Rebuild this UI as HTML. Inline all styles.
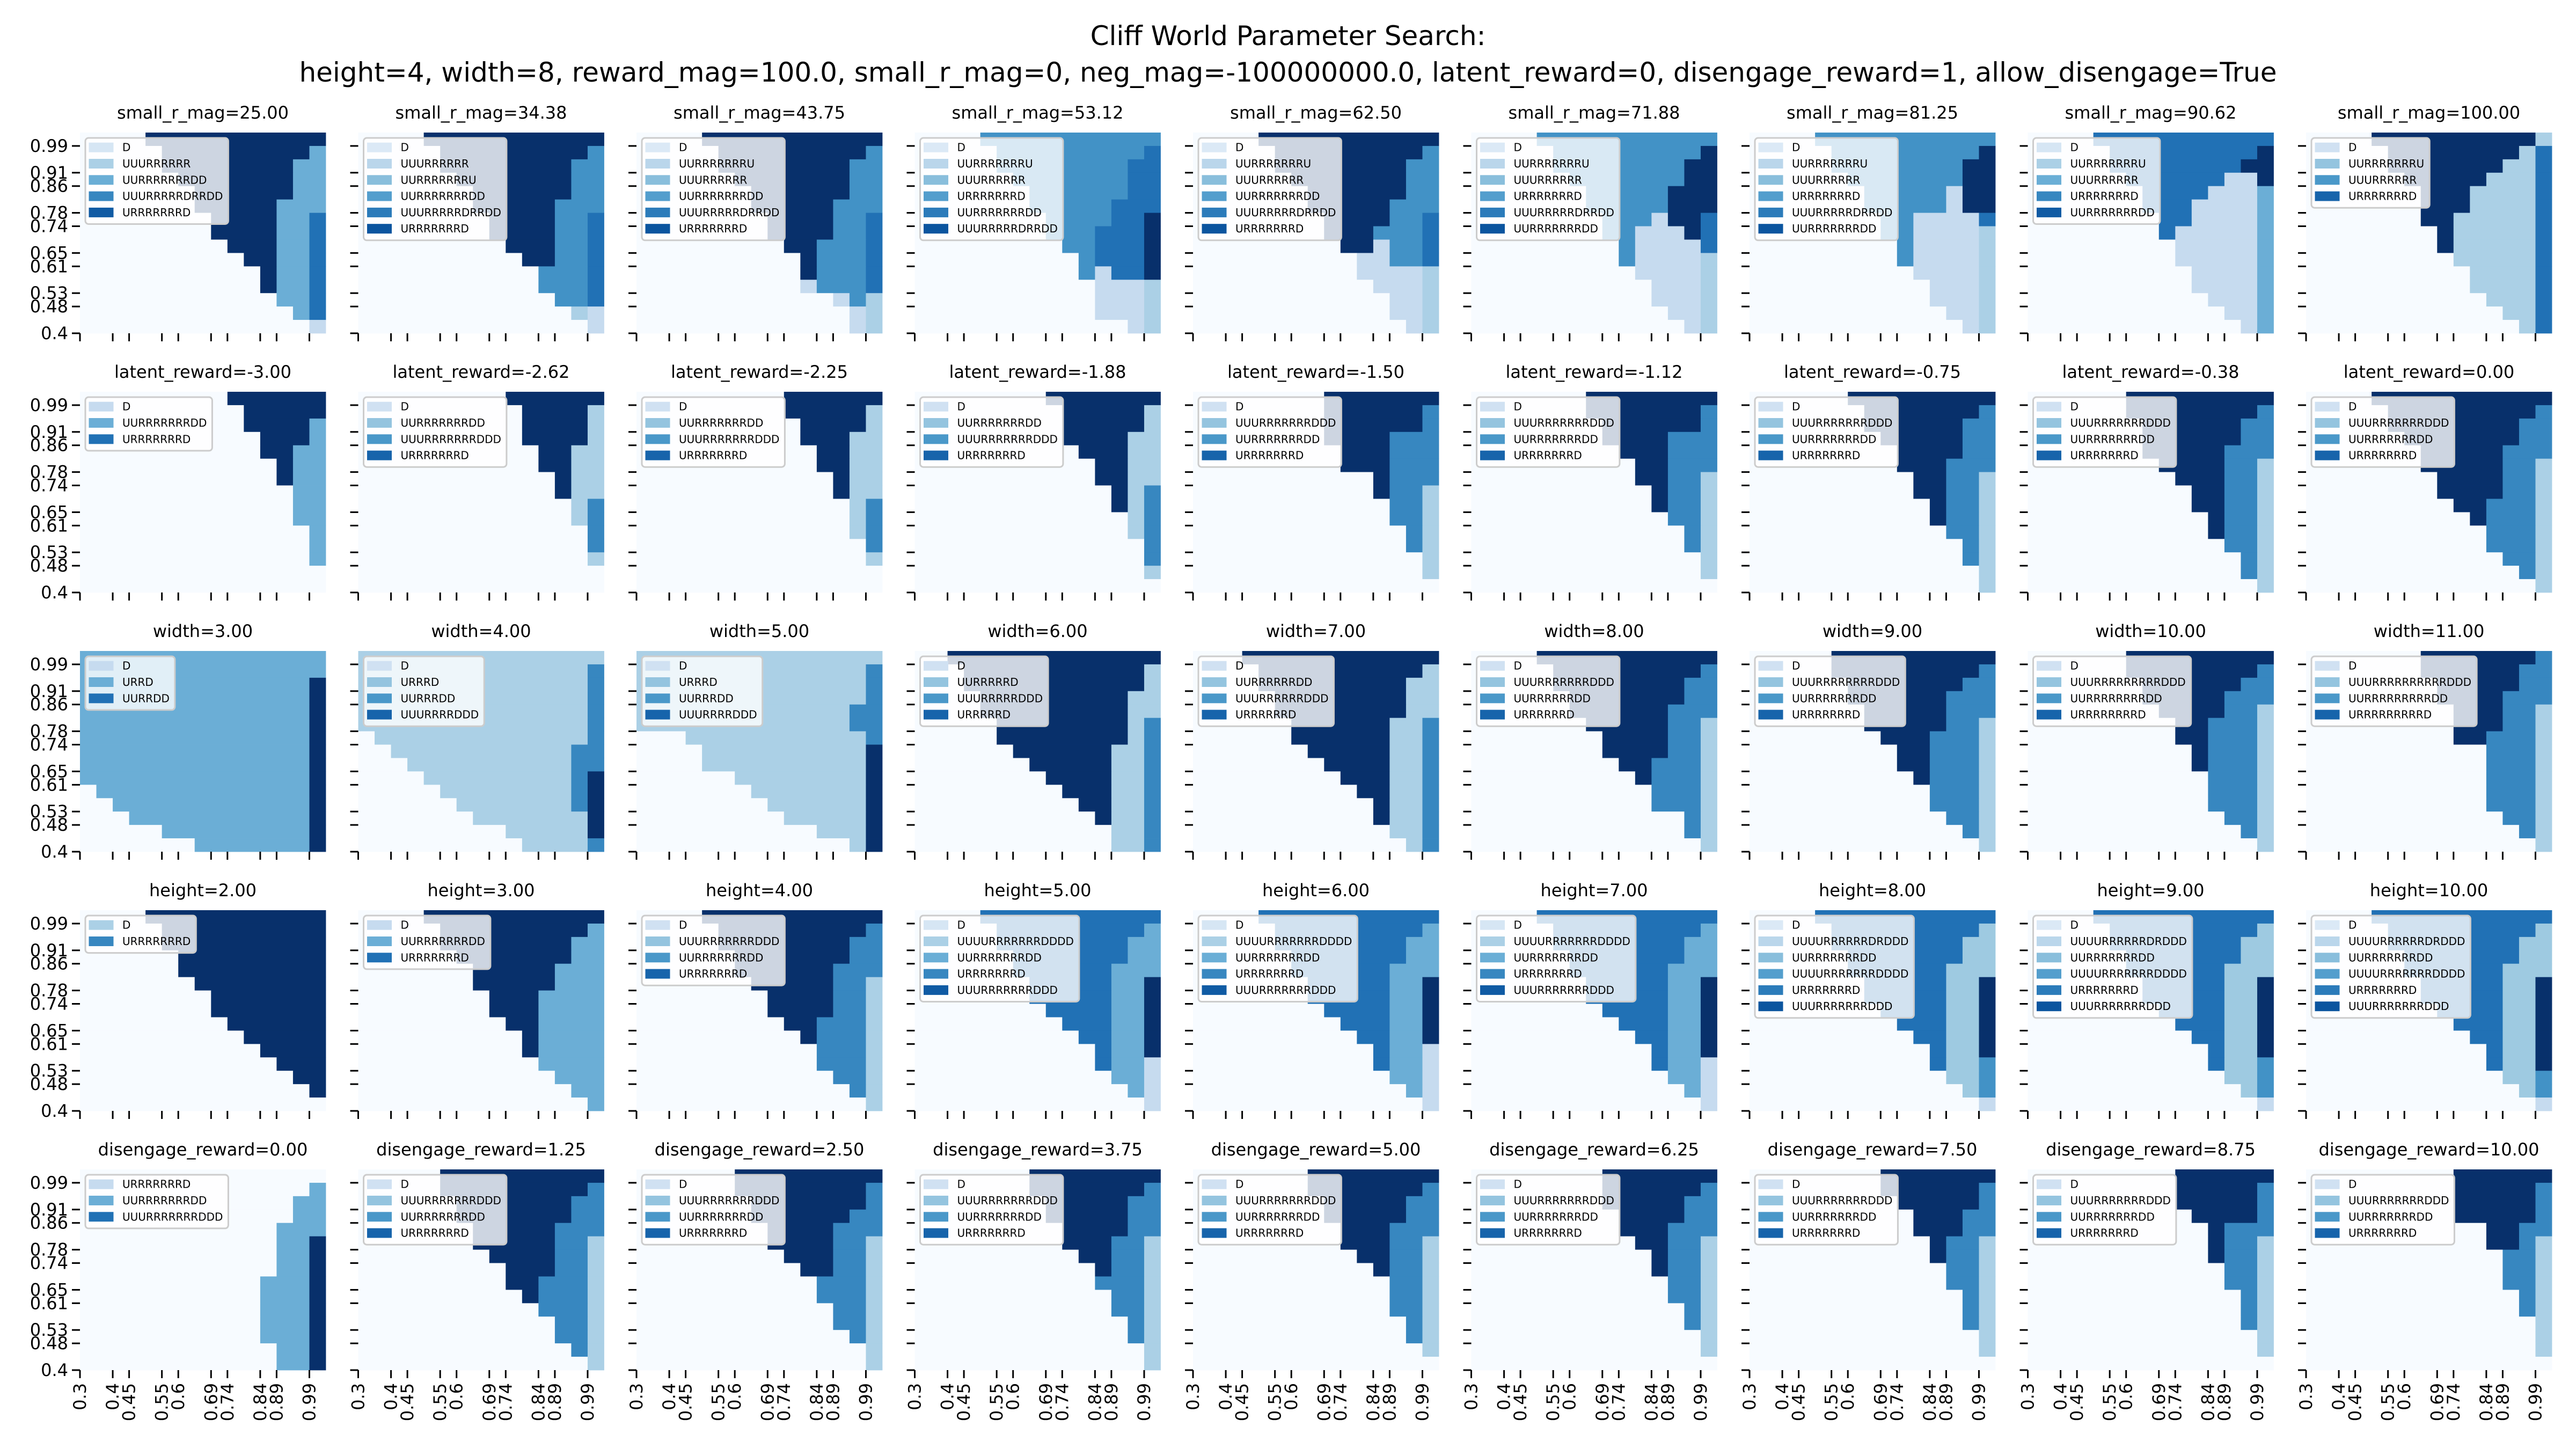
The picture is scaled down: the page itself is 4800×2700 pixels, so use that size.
<!DOCTYPE html>
<html><head><meta charset="utf-8"><title>Cliff World Parameter Search</title>
<style>
html,body{margin:0;padding:0;background:#fff;}
svg{display:block;font-family:"DejaVu Sans","Liberation Sans",sans-serif;}
</style></head>
<body>
<svg id="chart" width="4800" height="2700" xmlns="http://www.w3.org/2000/svg">
<rect x="0" y="0" width="4800" height="2700" fill="#ffffff"/>
<text x="2400" y="84" text-anchor="middle" font-size="50">Cliff World Parameter Search:</text>
<text x="2400" y="152" text-anchor="middle" font-size="50">height=4, width=8, reward_mag=100.0, small_r_mag=0, neg_mag=-100000000.0, latent_reward=0, disengage_reward=1, allow_disengage=True</text>
</svg>
<script>
// ---- data ----
const xTickLabels = ["0.3","0.4","0.45","0.55","0.6","0.69","0.74","0.84","0.89","0.99"];
const xTickCols = [0,2,3,5,6,8,9,11,12,14];
const yTickLabels = ["0.99","0.91","0.86","0.78","0.74","0.65","0.61","0.53","0.48","0.4"];
const yTickRows = [1,3,4,6,7,9,10,12,13,15];

const titlesRow1 = ["small_r_mag=25.00","small_r_mag=34.38","small_r_mag=43.75","small_r_mag=53.12","small_r_mag=62.50","small_r_mag=71.88","small_r_mag=81.25","small_r_mag=90.62","small_r_mag=100.00"];
const titlesRow2 = ["latent_reward=-3.00","latent_reward=-2.62","latent_reward=-2.25","latent_reward=-1.88","latent_reward=-1.50","latent_reward=-1.12","latent_reward=-0.75","latent_reward=-0.38","latent_reward=0.00"];
const titlesRow3 = ["width=3.00","width=4.00","width=5.00","width=6.00","width=7.00","width=8.00","width=9.00","width=10.00","width=11.00"];
const titlesRow4 = ["height=2.00","height=3.00","height=4.00","height=5.00","height=6.00","height=7.00","height=8.00","height=9.00","height=10.00"];
const titlesRow5 = ["disengage_reward=0.00","disengage_reward=1.25","disengage_reward=2.50","disengage_reward=3.75","disengage_reward=5.00","disengage_reward=6.25","disengage_reward=7.50","disengage_reward=8.75","disengage_reward=10.00"];

const legendsRow1 = [
 ["D","UUURRRRRR","UURRRRRRRDD","UUURRRRRDRRDD","URRRRRRRD"],
 ["D","UUURRRRRR","UURRRRRRRU","UURRRRRRRDD","UUURRRRRDRRDD","URRRRRRRD"],
 ["D","UURRRRRRRU","UUURRRRRR","UURRRRRRRDD","UUURRRRRDRRDD","URRRRRRRD"],
 ["D","UURRRRRRRU","UUURRRRRR","URRRRRRRD","UURRRRRRRDD","UUURRRRRDRRDD"],
 ["D","UURRRRRRRU","UUURRRRRR","UURRRRRRRDD","UUURRRRRDRRDD","URRRRRRRD"],
 ["D","UURRRRRRRU","UUURRRRRR","URRRRRRRD","UUURRRRRDRRDD","UURRRRRRRDD"],
 ["D","UURRRRRRRU","UUURRRRRR","URRRRRRRD","UUURRRRRDRRDD","UURRRRRRRDD"],
 ["D","UURRRRRRRU","UUURRRRRR","URRRRRRRD","UURRRRRRRDD"],
 ["D","UURRRRRRRU","UUURRRRRR","URRRRRRRD"]
];
const legendsRow2 = [
 ["D","UURRRRRRRDD","URRRRRRRD"],
 ["D","UURRRRRRRDD","UUURRRRRRRDDD","URRRRRRRD"],
 ["D","UURRRRRRRDD","UUURRRRRRRDDD","URRRRRRRD"],
 ["D","UURRRRRRRDD","UUURRRRRRRDDD","URRRRRRRD"],
 ["D","UUURRRRRRRDDD","UURRRRRRRDD","URRRRRRRD"],
 ["D","UUURRRRRRRDDD","UURRRRRRRDD","URRRRRRRD"],
 ["D","UUURRRRRRRDDD","UURRRRRRRDD","URRRRRRRD"],
 ["D","UUURRRRRRRDDD","UURRRRRRRDD","URRRRRRRD"],
 ["D","UUURRRRRRRDDD","UURRRRRRRDD","URRRRRRRD"]
];
const legendsRow3 = [
 ["D","URRD","UURRDD"],
 ["D","URRRD","UURRRDD","UUURRRRDDD"],
 ["D","URRRD","UURRRDD","UUURRRRDDD"],
 ["D","UURRRRRD","UUURRRRRDDD","URRRRRD"],
 ["D","UURRRRRRDD","UUURRRRRRDDD","URRRRRRD"],
 ["D","UUURRRRRRRDDD","UURRRRRRDD","URRRRRRD"],
 ["D","UUURRRRRRRRDDD","UURRRRRRRDD","URRRRRRRD"],
 ["D","UUURRRRRRRRRDDD","UURRRRRRRRDD","URRRRRRRRD"],
 ["D","UUURRRRRRRRRRDDD","UURRRRRRRRRDD","URRRRRRRRRD"]
];
const legendsRow4 = [
 ["D","URRRRRRRD"],
 ["D","UURRRRRRRDD","URRRRRRRD"],
 ["D","UUURRRRRRRDDD","UURRRRRRRDD","URRRRRRRD"],
 ["D","UUUURRRRRRRDDDD","UURRRRRRRDD","URRRRRRRD","UUURRRRRRRDDD"],
 ["D","UUUURRRRRRRDDDD","UURRRRRRRDD","URRRRRRRD","UUURRRRRRRDDD"],
 ["D","UUUURRRRRRRDDDD","UURRRRRRRDD","URRRRRRRD","UUURRRRRRRDDD"],
 ["D","UUUURRRRRRDRDDD","UURRRRRRRDD","UUUURRRRRRRDDDD","URRRRRRRD","UUURRRRRRRDDD"],
 ["D","UUUURRRRRRDRDDD","UURRRRRRRDD","UUUURRRRRRRDDDD","URRRRRRRD","UUURRRRRRRDDD"],
 ["D","UUUURRRRRRDRDDD","UURRRRRRRDD","UUUURRRRRRRDDDD","URRRRRRRD","UUURRRRRRRDDD"]
];
const legendsRow5 = [
 ["URRRRRRRD","UURRRRRRRDD","UUURRRRRRRDDD"],
 ["D","UUURRRRRRRDDD","UURRRRRRRDD","URRRRRRRD"],
 ["D","UUURRRRRRRDDD","UURRRRRRRDD","URRRRRRRD"],
 ["D","UUURRRRRRRDDD","UURRRRRRRDD","URRRRRRRD"],
 ["D","UUURRRRRRRDDD","UURRRRRRRDD","URRRRRRRD"],
 ["D","UUURRRRRRRDDD","UURRRRRRRDD","URRRRRRRD"],
 ["D","UUURRRRRRRDDD","UURRRRRRRDD","URRRRRRRD"],
 ["D","UUURRRRRRRDDD","UURRRRRRRDD","URRRRRRRD"],
 ["D","UUURRRRRRRDDD","UURRRRRRRDD","URRRRRRRD"]
];

// grid rows listed top (0.99 side) to bottom; each char = colour class of a cell
const gridsRow1 = [
 ["000077777777777","000007777777773","000007777777733","000000777777733","000000077777733","000000077777333","000000007777335","000000007777335","000000000777335","000000000077335","000000000007335","000000000007335","000000000000335","000000000000035","000000000000001"],
 ["000077777777777","000007777777774","000007777777744","000000777777744","000000077777744","000000077777444","000000007777445","000000007777445","000000000777445","000000000077445","000000000004445","000000000004445","000000000000445","000000000000021","000000000000001"],
 ["000077777777777","000007777777774","000007777777744","000000777777744","000000077777744","000000077777444","000000007777445","000000007777445","000000000774445","000000000074445","000000000074445","000000000014445","000000000000142","000000000000012","000000000000012"],
 ["000044444444444","000004444444445","000004444444455","000000444444455","000000044444455","000000044444555","000000004444557","000000004445557","000000000445557","000000000045557","000000000041557","000000000001112","000000000001112","000000000001112","000000000000012"],
 ["000077777777777","000007777777774","000007777777744","000000777777744","000000077777744","000000077777444","000000007777445","000000007774445","000000000771445","000000000011445","000000000011112","000000000001112","000000000000112","000000000000112","000000000000012"],
 ["000044444444444","000004444444447","000004444444477","000000444444477","000000044444777","000000044444777","000000004441775","000000004411175","000000000411115","000000000411112","000000000011112","000000000001112","000000000001112","000000000000112","000000000000012"],
 ["000044444444444","000004444444447","000004444444477","000000444444477","000000044444177","000000044444177","000000004411115","000000004411112","000000000411112","000000000411112","000000000011112","000000000001112","000000000001112","000000000000112","000000000000012"],
 ["000055555555555","000005555555557","000005555555577","000000555555117","000000055551113","000000055511113","000000005511113","000000005111113","000000000111113","000000000111113","000000000011113","000000000011113","000000000001113","000000000000113","000000000000013"],
 ["000077777777772","000007777777725","000007777777225","000000777772225","000000077722225","000000077722225","000000077222225","000000007222225","000000007222225","000000000222225","000000000022225","000000000022225","000000000002225","000000000000225","000000000000025"]
];
const gridsRow2 = [
 ["000000000777777","000000000077777","000000000077773","000000000007773","000000000007733","000000000000733","000000000000733","000000000000033","000000000000033","000000000000033","000000000000003","000000000000003","000000000000003","000000000000000","000000000000000"],
 ["000000000777777","000000000077772","000000000077772","000000000077772","000000000007722","000000000007722","000000000000722","000000000000722","000000000000026","000000000000026","000000000000006","000000000000006","000000000000002","000000000000000","000000000000000"],
 ["000000000777777","000000000777772","000000000077772","000000000077722","000000000007722","000000000007722","000000000000722","000000000000722","000000000000026","000000000000026","000000000000026","000000000000006","000000000000002","000000000000000","000000000000000"],
 ["000000007777777","000000000777772","000000000777772","000000000777722","000000000077722","000000000007722","000000000007722","000000000000726","000000000000726","000000000000026","000000000000026","000000000000006","000000000000006","000000000000002","000000000000000"],
 ["000000007777777","000000007777776","000000007777776","000000007777666","000000000777666","000000000777666","000000000007666","000000000007662","000000000000662","000000000000662","000000000000062","000000000000062","000000000000002","000000000000002","000000000000000"],
 ["000000077777777","000000077777776","000000007777776","000000007777666","000000000777666","000000000077666","000000000077662","000000000007662","000000000007662","000000000000662","000000000000062","000000000000062","000000000000002","000000000000002","000000000000000"],
 ["000000777777777","000000077777776","000000077777766","000000007777766","000000000777766","000000000777666","000000000077662","000000000077662","000000000007662","000000000007662","000000000000662","000000000000062","000000000000062","000000000000002","000000000000002"],
 ["000000777777777","000000777777776","000000077777766","000000077777766","000000077777666","000000007777662","000000000777662","000000000077662","000000000077662","000000000007662","000000000007662","000000000000662","000000000000062","000000000000062","000000000000002"],
 ["000077777777777","000007777777776","000007777777766","000000777777766","000000077777666","000000077777662","000000007777662","000000007777662","000000000776662","000000000076662","000000000006662","000000000006662","000000000000662","000000000000062","000000000000002"]
];
const gridsRow3 = [
 ["333333333333333","333333333333333","333333333333337","333333333333337","333333333333337","333333333333337","333333333333337","333333333333337","333333333333337","333333333333337","033333333333337","003333333333337","000333333333337","000003333333337","000000033333337"],
 ["222222222222222","222222222222226","222222222222226","222222222222226","222222222222226","222222222222226","022222222222226","002222222222266","000222222222266","000022222222267","000002222222267","000000222222267","000000022222227","000000000222227","000000000022226"],
 ["222222222222222","222222222222226","222222222222226","222222222222226","222222222222266","222222222222266","000222222222226","000022222222227","000022222222227","000000222222227","000000022222227","000000002222227","000000000222227","000000000002227","000000000000027"],
 ["007777777777777","000777777777772","000777777777772","000077777777722","000077777777722","000007777777726","000007777777726","000000777777226","000000077777226","000000007777226","000000000777226","000000000077226","000000000007226","000000000000226","000000000000226"],
 ["000777777777777","000077777777772","000077777777722","000007777777722","000007777777722","000000777777226","000000777777226","000000077777226","000000007777226","000000000777226","000000000077226","000000000007226","000000000007226","000000000000226","000000000000026"],
 ["000077777777777","000007777777776","000007777777766","000000777777766","000000777777666","000000077777662","000000007777662","000000007777662","000000000776662","000000000076662","000000000006662","000000000006662","000000000000062","000000000000062","000000000000002"],
 ["000007777777777","000007777777776","000000777777766","000000777777666","000000077777666","000000077777662","000000007776662","000000000776662","000000000776662","000000000076662","000000000006662","000000000006662","000000000000662","000000000000062","000000000000002"],
 ["000000777777777","000000777777776","000000077777766","000000077777666","000000007777662","000000000776662","000000000776662","000000000076662","000000000076662","000000000006662","000000000006662","000000000006662","000000000000662","000000000000062","000000000000002"],
 ["000000077777776","000000077777766","000000007777766","000000007777666","000000000777662","000000000777662","000000000776662","000000000006662","000000000006662","000000000006662","000000000006662","000000000006662","000000000000662","000000000000062","000000000000002"]
];
const gridsRow4 = [
 ["000077777777777","000007777777777","000007777777777","000000777777777","000000777777777","000000077777777","000000007777777","000000007777777","000000000777777","000000000077777","000000000007777","000000000000777","000000000000077","000000000000007","000000000000000"],
 ["000077777777777","000007777777773","000007777777733","000000777777733","000000077777333","000000077777333","000000007773333","000000007773333","000000000773333","000000000073333","000000000073333","000000000003333","000000000000333","000000000000033","000000000000003"],
 ["000077777777777","000007777777776","000007777777766","000000777777766","000000777777666","000000077777662","000000007777662","000000007777662","000000000776662","000000000076662","000000000006662","000000000006662","000000000000662","000000000000062","000000000000002"],
 ["000055555555555","000005555555553","000005555555533","000000555555533","000000555555333","000000055555337","000000055555337","000000005555337","000000000555337","000000000055337","000000000005337","000000000005331","000000000000331","000000000000031","000000000000001"],
 ["000055555555555","000005555555553","000005555555533","000000555555533","000000555555333","000000055555337","000000055555337","000000005555337","000000000555337","000000000055337","000000000005331","000000000005331","000000000000331","000000000000031","000000000000001"],
 ["000055555555555","000005555555553","000005555555533","000000555555533","000000555555333","000000055555337","000000055555337","000000005555337","000000000555337","000000000055337","000000000005337","000000000005331","000000000000331","000000000000031","000000000000001"],
 ["000055555555555","000005555555558","000005555555588","000000555555588","000000555555888","000000055555887","000000055555887","000000005555887","000000000555887","000000000055887","000000000005887","000000000005884","000000000000884","000000000000084","000000000000001"],
 ["000055555555555","000005555555558","000005555555588","000000555555588","000000555555888","000000055555887","000000055555887","000000005555887","000000000555887","000000000055887","000000000005887","000000000005884","000000000000884","000000000000084","000000000000001"],
 ["000055555555555","000005555555558","000005555555588","000000555555588","000000555555888","000000055555887","000000055555887","000000005555887","000000000555887","000000000055887","000000000005887","000000000005887","000000000000884","000000000000084","000000000000001"]
];
const gridsRow5 = [
 ["000000000000000","000000000000003","000000000000033","000000000000033","000000000000333","000000000000337","000000000000337","000000000000337","000000000003337","000000000003337","000000000003337","000000000003337","000000000003337","000000000000337","000000000000337"],
 ["000007777777777","000007777777776","000000777777766","000000777777766","000000077777666","000000077777662","000000007777662","000000000777662","000000000776662","000000000076662","000000000006662","000000000000662","000000000000662","000000000000062","000000000000002"],
 ["000000777777777","000000777777776","000000077777776","000000077777766","000000007777666","000000007777662","000000000777662","000000000077662","000000000006662","000000000006662","000000000000662","000000000000662","000000000000062","000000000000002","000000000000002"],
 ["000000077777777","000000077777776","000000007777766","000000007777766","000000000777766","000000000777662","000000000077662","000000000007662","000000000006662","000000000000662","000000000000662","000000000000062","000000000000062","000000000000002","000000000000002"],
 ["000000077777777","000000077777776","000000007777766","000000007777766","000000000777666","000000000777662","000000000077662","000000000007662","000000000000662","000000000000662","000000000000662","000000000000062","000000000000062","000000000000002","000000000000000"],
 ["000000007777777","000000007777776","000000007777766","000000000777766","000000000777666","000000000077662","000000000007662","000000000007662","000000000000662","000000000000662","000000000000062","000000000000062","000000000000002","000000000000002","000000000000000"],
 ["000000007777777","000000007777776","000000000777776","000000000077766","000000000077766","000000000007662","000000000007662","000000000000662","000000000000662","000000000000062","000000000000062","000000000000062","000000000000002","000000000000002","000000000000000"],
 ["000000000777777","000000000777776","000000000777776","000000000077776","000000000007666","000000000007662","000000000007662","000000000000662","000000000000662","000000000000062","000000000000062","000000000000062","000000000000002","000000000000002","000000000000000"],
 ["000000000777777","000000000777776","000000000777776","000000000777776","000000000007766","000000000007762","000000000000662","000000000000662","000000000000662","000000000000062","000000000000062","000000000000002","000000000000002","000000000000002","000000000000000"]
];

// ---- styling (not data) ----
const cellColors = {"0":"#f7fbff","1":"#c6dbef","2":"#abd0e6","3":"#6baed6","4":"#4292c6","5":"#2171b5","6":"#3787c0","7":"#08306b","8":"#9ecae1"};
const legendPalettes = {
 2:["#abd0e6","#3787c0"],
 3:["#c6dbef","#6baed6","#2171b5"],
 4:["#d0e1f2","#94c4df","#4a98c9","#1764ab"],
 5:["#d6e6f4","#abd0e6","#6aaed6","#3787c0","#105ba4"],
 6:["#dbe9f6","#bad6eb","#89bedc","#539ecd","#2b7bba","#0b559f"]
};
const NS = "http://www.w3.org/2000/svg";
const svg = document.getElementById("chart");
const PANEL_X0 = 149, PANEL_DX = 518.5, PANEL_W = 458;
const PANEL_Y0 = 247, PANEL_DY = 483, PANEL_H = 374;
const NCOL = 15, NROW = 15;
const cw = PANEL_W / NCOL, ch = PANEL_H / NROW;

function mk(tag, attrs, parent) {
  const e = document.createElementNS(NS, tag);
  for (const k in attrs) e.setAttribute(k, attrs[k]);
  (parent || svg).appendChild(e);
  return e;
}
function xScale(px, col) { return px + col * cw; }
function yScale(py, row) { return py + row * ch; }

const allTitles = [titlesRow1, titlesRow2, titlesRow3, titlesRow4, titlesRow5];
const allLegends = [legendsRow1, legendsRow2, legendsRow3, legendsRow4, legendsRow5];
const allGrids = [gridsRow1, gridsRow2, gridsRow3, gridsRow4, gridsRow5];

for (let r = 0; r < 5; r++) {
  for (let c = 0; c < 9; c++) {
    const px = PANEL_X0 + c * PANEL_DX;
    const py = PANEL_Y0 + r * PANEL_DY;
    const g = mk("g", {});
    
    

    // cells (runs merged per row)
    const grid = allGrids[r][c];
    for (let i = 0; i < NROW; i++) {
      let s = (grid[i] || "").padEnd(NCOL, "0").slice(0, NCOL);
      let j = 0;
      while (j < NCOL) {
        let k = j;
        while (k + 1 < NCOL && s[k + 1] === s[j]) k++;
        const x0 = xScale(px, j), x1 = xScale(px, k + 1);
        const y0 = yScale(py, i);
        const rect = mk("rect", {x: x0.toFixed(2), y: y0.toFixed(2), width: (x1 - x0 + 0.4).toFixed(2), height: (ch + 0.4).toFixed(2), fill: cellColors[s[j]] || "#f7fbff"}, g);
        
        
        j = k + 1;
      }
    }

    // title
    const t = mk("text", {x: px + PANEL_W / 2, y: py - 26, "text-anchor": "middle", "font-size": 32}, g);
    t.textContent = allTitles[r][c];
    
    

    // y ticks
    for (let q = 0; q < yTickRows.length; q++) {
      const ty = yScale(py, yTickRows[q]);
      const tk = mk("line", {x1: px - 15, x2: px, y1: ty, y2: ty, stroke: "#000", "stroke-width": 3}, g);
      
      
      if (c === 0) {
        const lb = mk("text", {x: px - 22, y: ty + 11, "text-anchor": "end", "font-size": 32}, g);
        lb.textContent = yTickLabels[q];
        
        
      }
    }
    // x ticks
    for (let q = 0; q < xTickCols.length; q++) {
      const tx = xScale(px, xTickCols[q]);
      const tk = mk("line", {x1: tx, x2: tx, y1: py + PANEL_H, y2: py + PANEL_H + 15, stroke: "#000", "stroke-width": 3}, g);
      
      
      if (r === 4) {
        const ly = py + PANEL_H + 24;
        const lb = mk("text", {x: 0, y: 0, "text-anchor": "end", "font-size": 32, transform: "translate(" + (tx + 11) + "," + ly + ") rotate(-90)"}, g);
        lb.textContent = xTickLabels[q];
        
        
      }
    }

    // legend
    const entries = allLegends[r][c];
    const pal = legendPalettes[entries.length] || legendPalettes[6];
    const lg = mk("g", {}, g);
    
    
    const bx = px + 10, by = py + 10;
    const box = mk("rect", {x: bx, y: by, rx: 6, ry: 6, width: 100, height: entries.length * 30.3 + 9, fill: "#ffffff", "fill-opacity": 0.8, stroke: "#cccccc", "stroke-width": 3}, lg);
    
    
    let maxW = 0;
    for (let e = 0; e < entries.length; e++) {
      const cy = by + 17.7 + e * 30.3;
      const patch = mk("rect", {x: bx + 6.5, y: cy - 9, width: 46, height: 18, fill: pal[e]}, lg);
      
      
      const tx = mk("text", {x: bx + 69, y: cy + 7, "font-size": 20}, lg);
      tx.textContent = entries[e];
      
      
      let w = 0;
      try { w = tx.getComputedTextLength(); } catch (err) { w = entries[e].length * 14.5; }
      if (!w) w = entries[e].length * 14.5;
      maxW = Math.max(maxW, w);
    }
    box.setAttribute("width", (69 + maxW + 10).toFixed(1));
  }
}
</script>
</body></html>
